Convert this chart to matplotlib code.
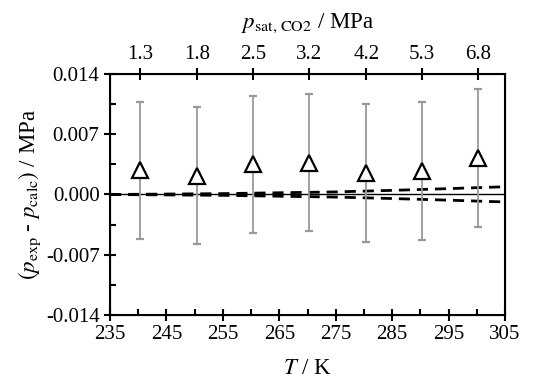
import matplotlib
matplotlib.use('Agg')
import matplotlib.pyplot as plt
import numpy as np
from matplotlib.ticker import MultipleLocator

plt.rcParams['font.family'] = ['Liberation Serif', 'DejaVu Serif']
plt.rcParams['mathtext.fontset'] = 'stix'
plt.rcParams['font.size'] = 15

# data
T = [240.3, 250.4, 260.4, 270.3, 280.4, 290.3, 300.3]
dp = [0.0028, 0.0022, 0.0035, 0.0037, 0.0025, 0.0027, 0.0042]
err = [0.008, 0.008, 0.008, 0.008, 0.008, 0.008, 0.008]
psat_labels = ['1.3', '1.8', '2.5', '3.2', '4.2', '5.3', '6.8']

# uncertainty band of the model (dashed)
T_band = [235, 245, 255, 265, 275, 285, 295, 305]
band_up = [0.0, 0.00005, 0.0001, 0.0002, 0.0003, 0.00048, 0.00068, 0.0009]
band_lo = [0.0, -0.00005, -0.0001, -0.0002, -0.0003, -0.00047, -0.00066, -0.00087]

fig = plt.figure(figsize=(5.41, 3.86), dpi=100)
ax = fig.add_axes([0.2033, 0.184, 0.7302, 0.6243])

ax.axhline(0, color='black', lw=1.0, zorder=1)
ax.plot(T_band, band_up, '--', color='black', lw=2.0, dashes=(4, 2.5), zorder=2)
ax.plot(T_band, band_lo, '--', color='black', lw=2.0, dashes=(4, 2.5), zorder=2)
ax.errorbar(T, dp, yerr=err, fmt='^', mfc='white', mec='black', mew=1.6,
            ms=11, ecolor='#999999', elinewidth=1.3, capsize=3, capthick=1.3, zorder=3)

ax.set_xlim(235, 305)
ax.set_ylim(-0.014, 0.014)
ax.set_xticks(np.arange(235, 306, 10))
ax.set_yticks([-0.014, -0.007, 0.0, 0.007, 0.014])
ax.set_yticklabels(['-0.014', '-0.007', '0.000', '0.007', '0.014'])
ax.xaxis.set_minor_locator(MultipleLocator(5))
ax.yaxis.set_minor_locator(MultipleLocator(0.0035))
ax.tick_params(which='major', direction='inout', length=8, width=1.5, top=False, right=False)
ax.tick_params(which='minor', direction='in', length=4, width=1.5, top=False, right=False)
for s in ax.spines.values():
    s.set_linewidth(1.5)

ax.set_xlabel(r'$T$ / K', labelpad=10, fontsize=16.5)
ax.set_ylabel(r'$(p_{\rm exp}$ - $p_{\rm calc})$ / MPa', labelpad=2, fontsize=16.5)

ax2 = ax.twiny()
ax2.set_xlim(235, 305)
ax2.set_xticks(T)
ax2.set_xticklabels(psat_labels)
ax2.tick_params(which='major', direction='inout', length=8, width=1.5)
ax2.set_xlabel(r'$p_{\rm sat,\,CO2}$ / MPa', labelpad=12, fontsize=16.5)

fig.savefig('out.png', dpi=100)
